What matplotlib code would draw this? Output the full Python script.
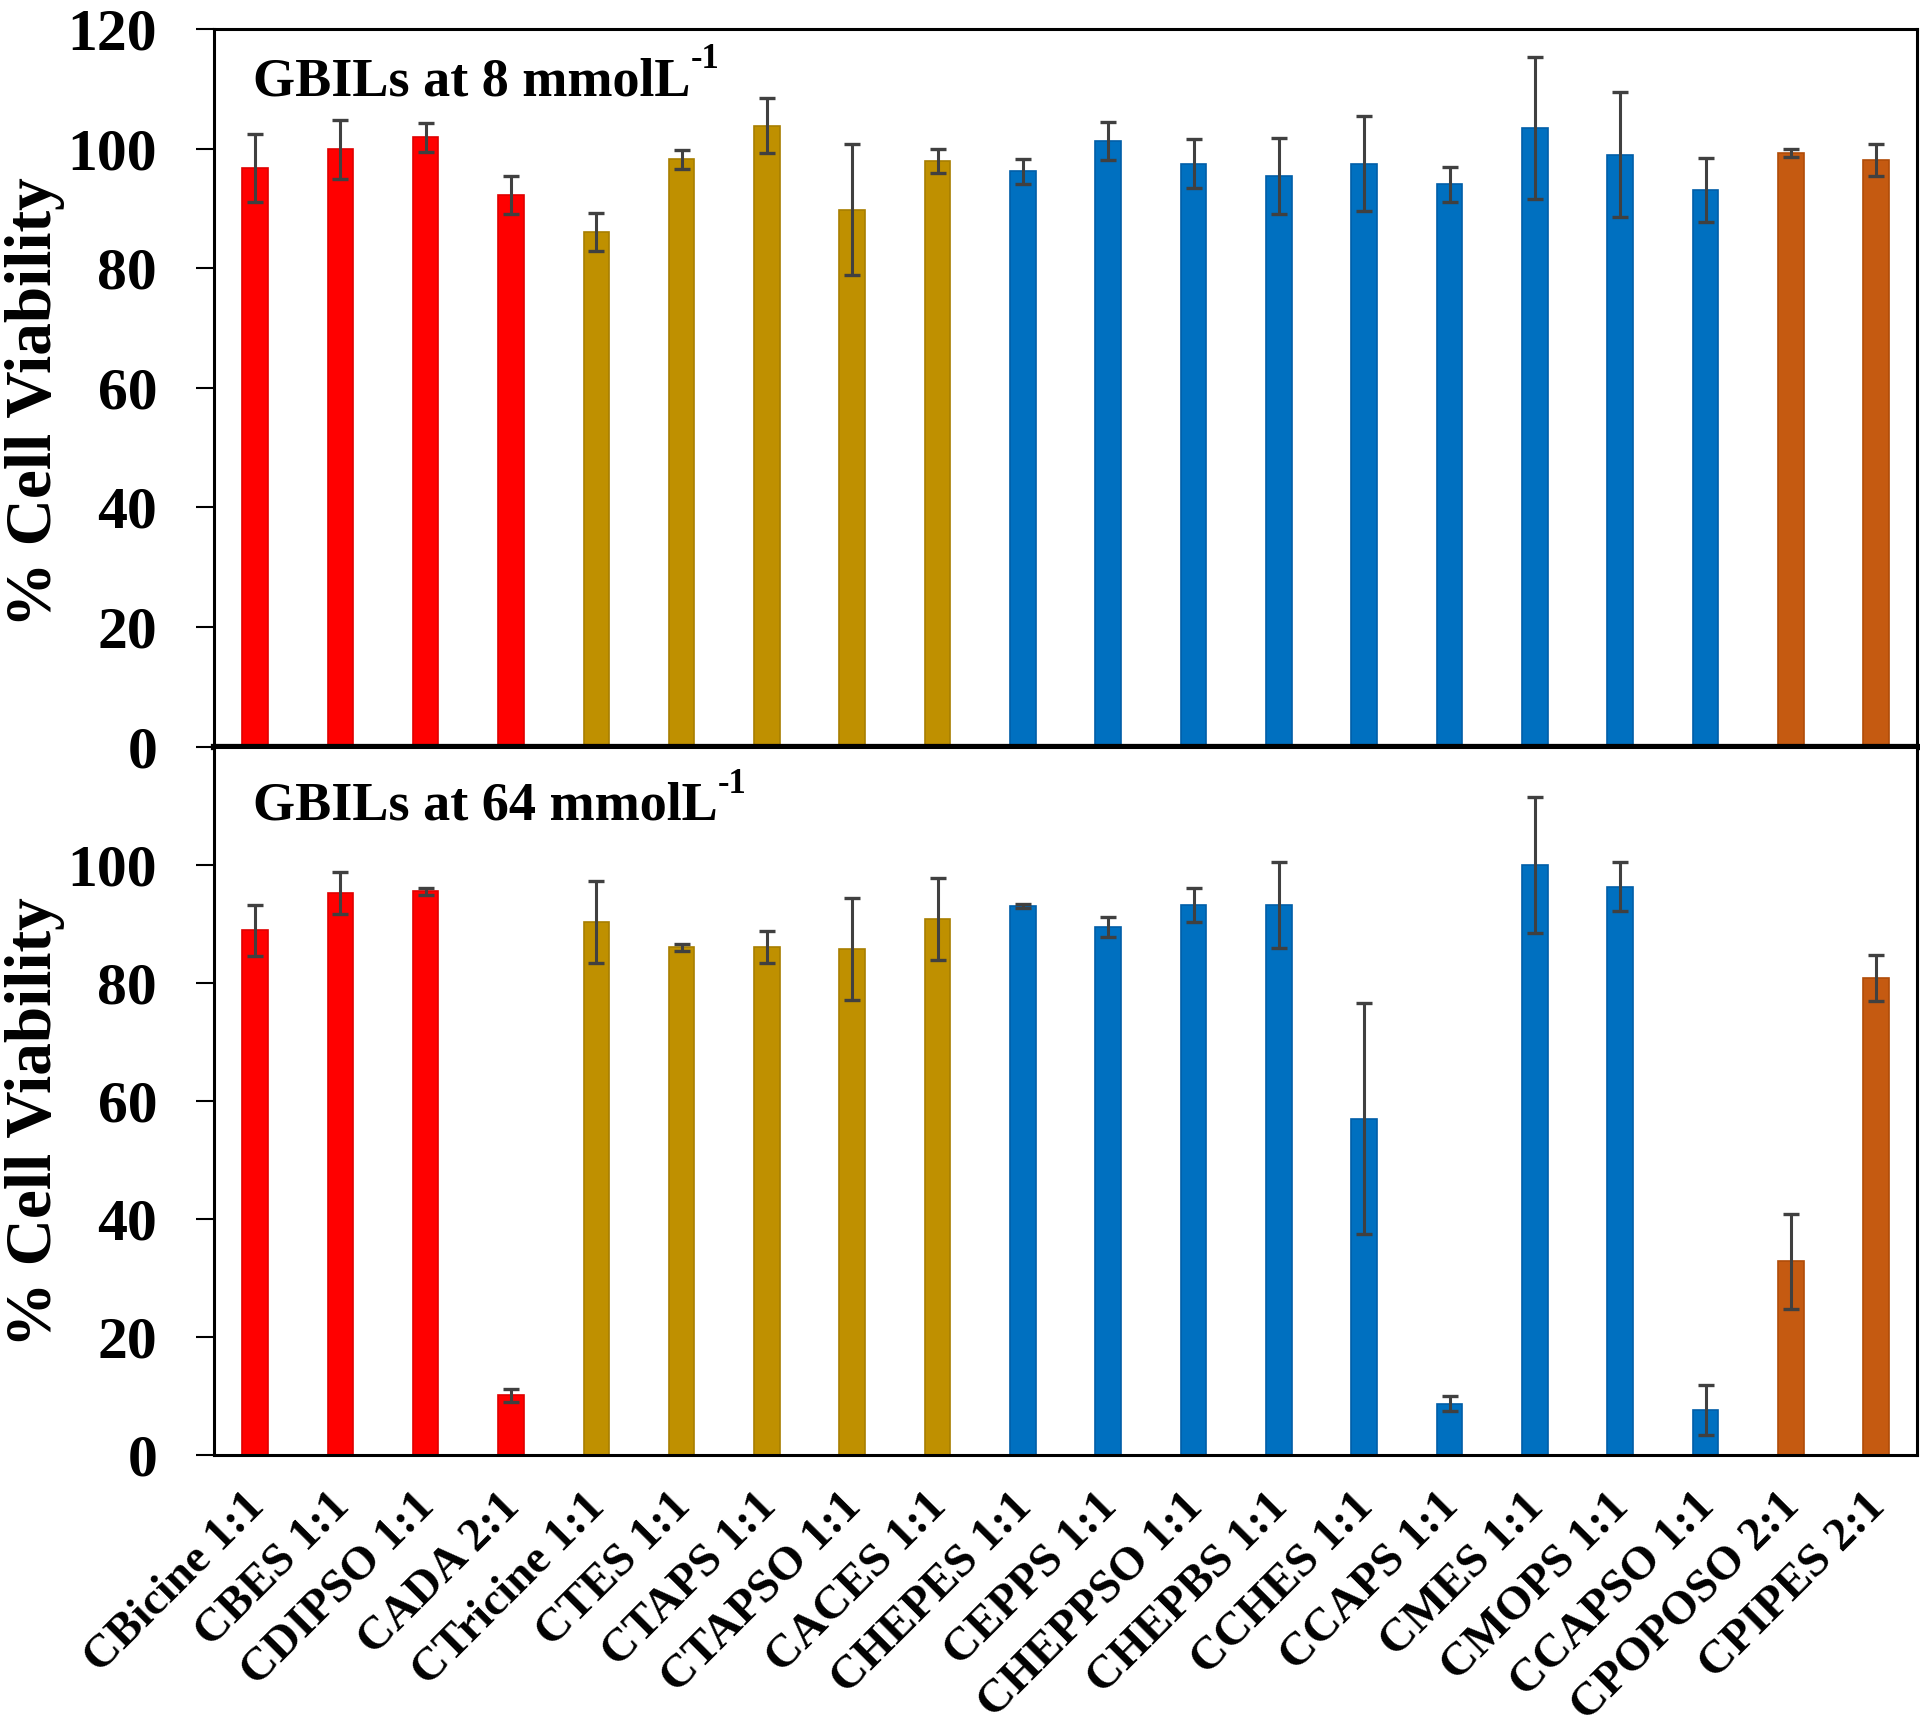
import numpy as np
import matplotlib
matplotlib.use("Agg")
import matplotlib.pyplot as plt
import matplotlib.transforms as mtransforms

# GBIL names and group colours
names = ["CBicine 1:1", "CBES 1:1", "CDIPSO 1:1", "CADA 2:1", "CTricine 1:1",
         "CTES 1:1", "CTAPS 1:1", "CTAPSO 1:1", "CACES 1:1", "CHEPES 1:1",
         "CEPPS 1:1", "CHEPPSO 1:1", "CHEPBS 1:1", "CCHES 1:1", "CCAPS 1:1",
         "CMES 1:1", "CMOPS 1:1", "CCAPSO 1:1", "CPOPOSO 2:1", "CPIPES 2:1"]
groups = ["red"] * 4 + ["gold"] * 5 + ["blue"] * 9 + ["orange"] * 2
group_colors = {"red": "#FF0000", "gold": "#BF9000", "blue": "#0070C0", "orange": "#C55A11"}
group_edges = {"red": "#E00000", "gold": "#A87E00", "blue": "#005EA8", "orange": "#B04C08"}

# % cell viability at 8 mmol/L
mean_8 = [96.8, 99.9, 101.9, 92.3, 86.1, 98.2, 103.8, 89.8, 97.9, 96.2,
          101.3, 97.5, 95.4, 97.5, 94.0, 103.5, 99.0, 93.1, 99.3, 98.1]
err_8 = [5.7, 4.9, 2.4, 3.2, 3.2, 1.6, 4.6, 11.0, 2.0, 2.1,
         3.2, 4.1, 6.3, 8.0, 2.9, 11.9, 10.4, 5.4, 0.7, 2.6]

# % cell viability at 64 mmol/L
mean_64 = [88.9, 95.2, 95.5, 10.1, 90.3, 86.0, 86.0, 85.7, 90.8, 93.0,
           89.4, 93.2, 93.2, 57.0, 8.7, 100.0, 96.3, 7.6, 32.8, 80.8]
err_64 = [4.3, 3.6, 0.6, 1.1, 7.0, 0.6, 2.7, 8.7, 7.0, 0.4,
          1.7, 2.9, 7.3, 19.5, 1.3, 11.5, 4.1, 4.2, 8.1, 3.9]

plt.rcParams["font.family"] = ["Liberation Serif", "DejaVu Serif"]
plt.rcParams["font.weight"] = "bold"

fig = plt.figure(figsize=(19.2, 17.36), dpi=100)
ax_top = fig.add_axes([0.1115, 0.5699, 0.887, 0.4134])
ax_bot = fig.add_axes([0.1115, 0.1619, 0.887, 0.4080])

x = np.arange(len(names))
colors = [group_colors[g] for g in groups]
edges = [group_edges[g] for g in groups]


def draw_panel(ax, means, errs, title, yticks, title_y, label_y):
    ax.bar(x, means, width=0.3, color=colors, edgecolor=edges, linewidth=1.2, zorder=2)
    ax.errorbar(x, means, yerr=errs, fmt="none", ecolor="#404040",
                elinewidth=2.2, capsize=6, capthick=2.4, zorder=3)
    ax.set_xlim(-0.48, 19.48)
    ax.set_ylim(0, 120)
    ax.set_yticks(yticks)
    ax.tick_params(axis="y", direction="out", length=13, width=1.5, pad=28, labelsize=43)
    ax.tick_params(axis="x", length=0)
    for s in ax.spines.values():
        s.set_linewidth(2.2)
    ax.set_ylabel("% Cell Viability", fontsize=47, fontweight="bold")
    ax.yaxis.set_label_coords(-0.0875, label_y)
    t = ax.text(0.023, title_y, title, transform=ax.transAxes, fontsize=39,
                fontweight="bold", ha="left", va="baseline")
    # superscript "-1" placed just after the title text
    ax.annotate("-1", xy=(1.0, 0.62), xycoords=t, fontsize=25,
                fontweight="bold", ha="left", va="bottom")


draw_panel(ax_top, mean_8, err_8, "GBILs at 8 mmolL",
           [0, 20, 40, 60, 80, 100, 120], 0.908, 0.48)
draw_panel(ax_bot, mean_64, err_64, "GBILs at 64 mmolL",
           [0, 20, 40, 60, 80, 100], 0.897, 0.47)

ax_top.spines["bottom"].set_linewidth(4.5)
ax_top.set_xticks(x)
ax_top.set_xticklabels([])

ax_bot.set_xticks(x)
ax_bot.set_xticklabels(names, rotation=45, ha="right", va="top",
                       rotation_mode="anchor", fontsize=34, fontweight="bold")
ax_bot.tick_params(axis="x", pad=22)
shift = mtransforms.ScaledTranslation(-0.12, 0, fig.dpi_scale_trans)
for lab in ax_bot.get_xticklabels():
    lab.set_transform(lab.get_transform() + shift)

fig.savefig("out.png", dpi=100, facecolor="white")
